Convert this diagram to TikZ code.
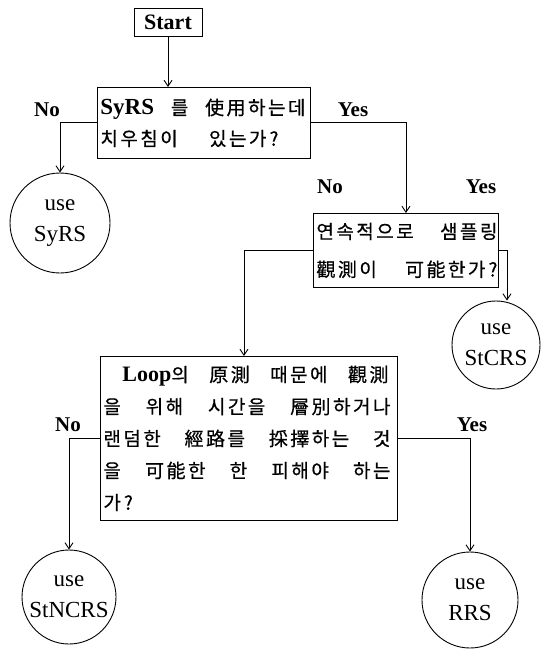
\documentclass[tikz,border=0pt]{standalone}
\usepackage{fontspec}
\setmainfont{Liberation Serif}
\newfontfamily\kr[LetterSpace=13,FakeBold=0.6]{Noto Sans CJK KR}
\usetikzlibrary{arrows.meta}
\newcommand\jline[2]{\leavevmode\hbox to #1{#2}}
\begin{document}
\begin{tikzpicture}[x=1pt,y=-1pt,
  line width=0.9pt,
  arr/.style={draw,-{Straight Barb[length=6pt,width=8pt,line width=0.9pt]}},
  qbox/.style={draw,rectangle,anchor=north west,inner xsep=3pt,inner ysep=0pt,align=left},
  endc/.style={draw,circle,inner sep=0pt,align=center,font=\fontsize{23}{31}\selectfont},
  lbl/.style={font=\bfseries\fontsize{21}{21}\selectfont,inner sep=0pt}]
\useasboundingbox (0,0) rectangle (540,652);

\node[draw,rectangle,minimum width=68pt,minimum height=28pt,inner sep=0pt,
  font=\bfseries\fontsize{22}{22}\selectfont] (start) at (168,22) {Start};

\node[qbox,minimum width=213pt,minimum height=71pt,text width=207pt,
  font=\kr\fontsize{19}{31}\selectfont] (b1) at (97,87)
  {\jline{205pt}{{\rmfamily\bfseries\fontsize{23}{23}\selectfont SyRS}\hfill 를\hfill 使用하는데}\\
   \jline{178pt}{치우침이\hfill 있는가\kern3pt?}};

\node[qbox,minimum width=185pt,minimum height=74pt,text width=179pt,
  font=\kr\fontsize{19}{38}\selectfont] (b2) at (313,213)
  {\jline{181pt}{연속적으로\hfill 샘플링}\\
   \jline{181pt}{觀測이\hfill 可能한가\kern3pt?}};

\node[qbox,minimum width=297pt,minimum height=164pt,text width=291pt,
  font=\kr\fontsize{19}{32}\selectfont] (b3) at (100,356)
  {\hspace*{19pt}\jline{266pt}{{\rmfamily\bfseries\fontsize{22}{22}\selectfont Loop}의\hfill 原測\hfill 때문에\hfill 觀測}\\
   \jline{287pt}{을\hfill 위해\hfill 시간을\hfill 層別하거나}\\
   \jline{287pt}{랜덤한\hfill 經路를\hfill 採擇하는\hfill 것}\\
   \jline{287pt}{을\hfill 可能한\hfill 한\hfill 피해야\hfill 하는}\\
   가\kern3pt?};

\node[endc,minimum size=100pt] (syrs) at (60,223) {use\\SyRS};
\node[endc,minimum size=88pt] (stcrs) at (496,345) {use\\StCRS};
\node[endc,minimum size=94pt] (stncrs) at (69,597) {use\\StNCRS};
\node[endc,minimum size=96pt] (rrs) at (470,600) {use\\RRS};

\node[lbl] (l1) at (47,110) {No};
\node[lbl] (l2) at (353,110) {Yes};
\node[lbl] (l3) at (330,187) {No};
\node[lbl] (l4) at (481,187) {Yes};
\node[lbl] (l5) at (68,425) {No};
\node[lbl] (l6) at (472,425) {Yes};

\draw[arr] (start.south) -- (start.south |- b1.north);
\draw[arr] (b1.west) -| (syrs.north);
\draw[arr] (b1.east) -| (b2.north);
\draw[arr] (b2.east) -| ([xshift=11pt]stcrs.north);
\draw[arr] (b2.west) -| ([xshift=-5pt]b3.north);
\draw[arr] (b3.west) -| (stncrs.north);
\draw[arr] (b3.east) -| (rrs.north);
\end{tikzpicture}
\end{document}
